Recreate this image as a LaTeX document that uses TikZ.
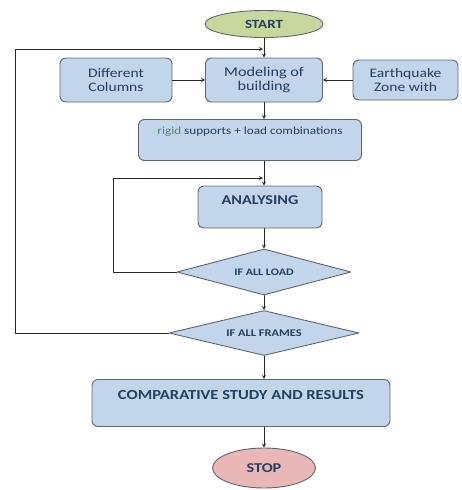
\documentclass[tikz,border=0pt]{standalone}
\usepackage{fontspec}
\setmainfont{Carlito}[FakeStretch=1.2]
\usetikzlibrary{shapes.geometric}
\definecolor{boxblue}{HTML}{C3D5EB}
\definecolor{startgreen}{HTML}{C6D89B}
\definecolor{stopred}{HTML}{E8B7B6}
\definecolor{txtblue}{HTML}{243F60}
\definecolor{edgegray}{HTML}{5F6670}
\definecolor{rigidgreen}{HTML}{4E8A6E}
\newcommand{\fs}[1]{\fontsize{#1}{#1}\selectfont}
\begin{document}
\begin{tikzpicture}[x=1pt,y=-1pt,>=stealth, line join=round, line cap=round,
  shp/.style={draw=edgegray, line width=0.9pt, text=txtblue},
  box/.style={shp, rounded corners=6pt, fill=boxblue, align=center, inner sep=1pt},
  oval/.style={shp, ellipse, inner sep=0pt},
  test/.style={shp, diamond, fill=boxblue, inner sep=0pt, aspect=4},
  link/.style={->, line width=0.8pt, draw=black!85}]
\def\xc{264} % main axis
\useasboundingbox (0,0) rectangle (461,490);
% nodes
\node[oval, fill=startgreen, minimum width=118pt, minimum height=27pt, font=\bfseries\fs{12.5}] (start) at (\xc,24) {START};
\node[box, minimum width=117pt, minimum height=44pt, font=\fs{13.5}] (model) at (\xc,80) {Modeling of\\[1pt]building};
\node[box, minimum width=112pt, minimum height=44pt, font=\fs{13}] (cols) at (116,80) {Different\\[1pt]Columns};
\node[box, minimum width=105pt, minimum height=40pt, font=\fs{13}] (quake) at (405.5,80) {Earthquake\\[1pt]Zone with};
\node[box, minimum width=223pt, minimum height=41pt, text depth=18pt, font=\fs{11}] (rigid) at (250,140) {\textcolor{rigidgreen}{rigid} supports + load combinations};
\node[box, minimum width=124pt, minimum height=42pt, text depth=14pt, font=\bfseries\fs{13.5}] (analys) at (260,207) {ANALYSING};
\node[test, minimum width=174pt, minimum height=46pt, font=\bfseries\fs{10}] (load) at (\xc,272) {IF ALL LOAD};
\node[test, minimum width=190pt, minimum height=45pt, font=\bfseries\fs{10.3}] (frames) at (\xc,333) {IF ALL FRAMES};
\node[box, minimum width=298pt, minimum height=47pt, text depth=16pt, font=\bfseries\fs{13.8}] (comp) at (241,403) {COMPARATIVE STUDY AND RESULTS};
\node[oval, fill=stopred, minimum width=103pt, minimum height=40pt, font=\bfseries\fs{13.5}] (stop) at (\xc,468) {STOP};
% loop points
\coordinate (top) at (\xc,49);
\coordinate (outL) at (15,333);
\coordinate (mid) at (\xc,178);
\coordinate (inL) at (113,272);
% connectors
\draw[link] (start) -- (model);
\draw[link] (cols) -- (model);
\draw[link] (quake) -- (model);
\draw[link] (model.south) -- (model.south |- rigid.north);
\draw[link] (model.south |- rigid.south) -- (model.south |- analys.north);
\draw[link] (model.south |- analys.south) -- (load.north);
\draw[link] (load) -- (frames);
\draw[link] (frames.south) -- (frames.south |- comp.north);
\draw[link] (frames.south |- comp.south) -- (stop);
\draw[link] (frames.west) -- (outL) |- ([xshift=-1pt]top);
\draw[link] (load.west) -- (inL) |- ([xshift=-1pt]mid);
\end{tikzpicture}
\end{document}
